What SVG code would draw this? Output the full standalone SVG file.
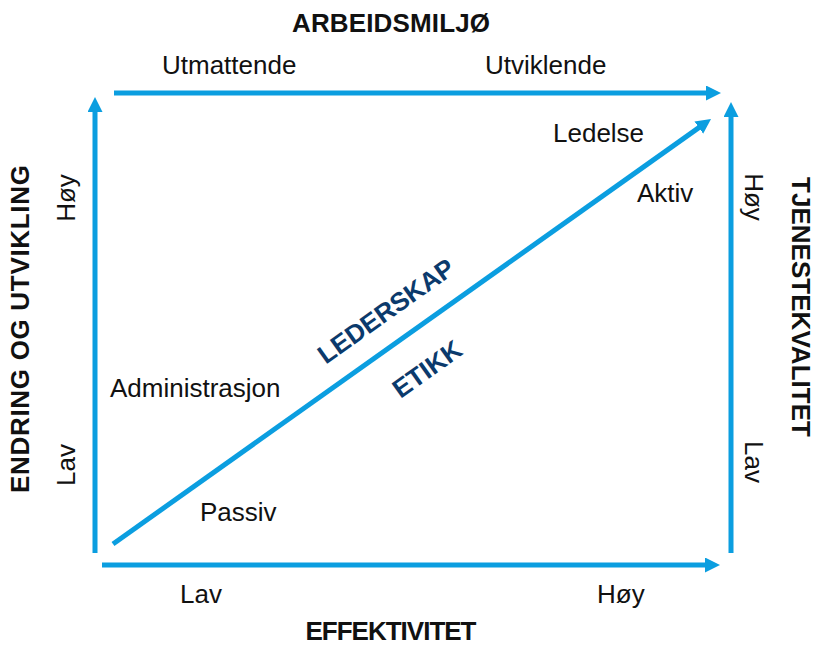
<svg xmlns="http://www.w3.org/2000/svg" width="815" height="646" viewBox="0 0 815 646">
<style>
.ax{stroke:#0b9ee0;stroke-width:5;fill:none;marker-end:url(#ah)}
.t{font-family:"Liberation Sans",Arial,sans-serif;font-size:26px;fill:#111}
.b{font-family:"Liberation Sans",Arial,sans-serif;font-size:26px;font-weight:bold;fill:#111}
.n{font-family:"Liberation Sans",Arial,sans-serif;font-size:26px;font-weight:bold;fill:#0b3a6c}
</style>
<defs>
<marker id="ah" markerUnits="userSpaceOnUse" markerWidth="16" markerHeight="16" refX="7" refY="7.5" orient="auto">
<path d="M0,0 L15,7.5 L0,15 z" fill="#0b9ee0"/>
</marker>
</defs>
<rect width="815" height="646" fill="#fff"/>
<g id="connectors">
<line class="ax" x1="95" y1="553" x2="95" y2="105"/>
<line class="ax" x1="114" y1="93" x2="713" y2="93"/>
<line class="ax" x1="731" y1="553" x2="731" y2="110"/>
<line class="ax" x1="102" y1="565" x2="712" y2="565"/>
<line class="ax" x1="113" y1="544" x2="704.5" y2="123.6"/>
</g>
<g id="titles">
<text class="b" x="391" y="32" text-anchor="middle" textLength="198">ARBEIDSMILJØ</text>
<text class="b" x="391" y="640" text-anchor="middle" textLength="171">EFFEKTIVITET</text>
<text class="b" transform="translate(29,329) rotate(-90)" text-anchor="middle" textLength="328">ENDRING OG UTVIKLING</text>
<text class="b" transform="translate(792,307) rotate(90)" text-anchor="middle" textLength="260">TJENESTEKVALITET</text>
</g>
<g id="labels">
<text class="t" x="162" y="74">Utmattende</text>
<text class="t" x="485" y="74">Utviklende</text>
<text class="t" x="553" y="142">Ledelse</text>
<text class="t" x="637" y="202">Aktiv</text>
<text class="t" x="110" y="397">Administrasjon</text>
<text class="t" x="200" y="521">Passiv</text>
<text class="t" x="180" y="603">Lav</text>
<text class="t" x="597" y="603">Høy</text>
<text class="t" transform="translate(75,198) rotate(-90)" text-anchor="middle">Høy</text>
<text class="t" transform="translate(75,465) rotate(-90)" text-anchor="middle">Lav</text>
<text class="t" transform="translate(745,197) rotate(90)" text-anchor="middle">Høy</text>
<text class="t" transform="translate(745,462) rotate(90)" text-anchor="middle">Lav</text>
</g>
<g id="diagonal-labels">
<text class="n" transform="translate(386,311) rotate(-35.4)" y="9" text-anchor="middle">LEDERSKAP</text>
<text class="n" transform="translate(427,369) rotate(-35.4)" y="9" text-anchor="middle">ETIKK</text>
</g>
</svg>
